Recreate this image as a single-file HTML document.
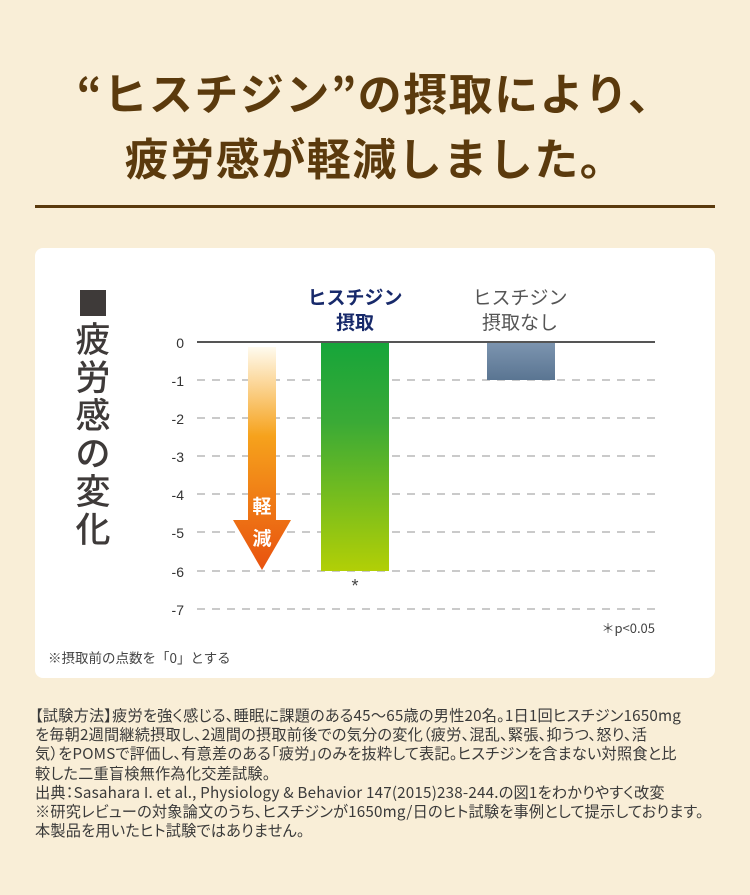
<!DOCTYPE html>
<html><head><meta charset="utf-8"><style>
*{margin:0;padding:0;box-sizing:border-box}
body{width:750px;height:895px;background:#f9eed7;position:relative;font-family:"Liberation Sans","Noto Sans CJK JP",sans-serif;overflow:hidden}
.t{position:absolute;left:0;width:750px;text-align:center;color:#5b3a0d;font-weight:bold;font-size:44px;font-family:"Noto Sans CJK JP",sans-serif;letter-spacing:1.5px}
.rule{position:absolute;left:35px;top:205px;width:680px;height:3px;background:#5b3a0d}
.panel{position:absolute;left:35px;top:248px;width:680px;height:430px;background:#fff;border-radius:8px}
.a{position:absolute}
.notes{position:absolute;left:35px;top:706px;width:710px;font-size:15.2px;line-height:19.2px;color:#3a3a3a;font-family:"Noto Sans CJK JP",sans-serif;letter-spacing:0.2px;white-space:nowrap;font-feature-settings:"palt"}
</style></head><body>
<div class="t" style="top:59px">“ヒスチジン”の摂取により、</div>
<div class="t" style="top:124px">疲労感が軽減しました。</div>
<div class="rule"></div>
<div class="panel"></div>
<svg class="a" style="left:0;top:0" width="750" height="700">
<defs>
<linearGradient id="g" x1="0" y1="0" x2="0" y2="1"><stop offset="0" stop-color="#16a53a"/><stop offset="0.35" stop-color="#3aaa36"/><stop offset="1" stop-color="#b2cf06"/></linearGradient>
<linearGradient id="s" x1="0" y1="0" x2="0" y2="1"><stop offset="0" stop-color="#7d95b0"/><stop offset="1" stop-color="#5a7592"/></linearGradient>
<linearGradient id="o" x1="0" y1="347" x2="0" y2="570" gradientUnits="userSpaceOnUse"><stop offset="0" stop-color="#fffbee"/><stop offset="0.4" stop-color="#f6a21c"/><stop offset="1" stop-color="#e8520f"/></linearGradient>
</defs>
<g stroke="#aaa" stroke-width="1.3" stroke-dasharray="8,7">
<line x1="197" y1="380" x2="655" y2="380"/><line x1="197" y1="418" x2="655" y2="418"/>
<line x1="197" y1="456" x2="655" y2="456"/><line x1="197" y1="494" x2="655" y2="494"/>
<line x1="197" y1="532" x2="655" y2="532"/><line x1="197" y1="571" x2="655" y2="571"/>
<line x1="197" y1="609" x2="655" y2="609"/>
</g>
<rect x="321" y="342" width="68" height="229" fill="url(#g)"/>
<rect x="487" y="342" width="68" height="38" fill="url(#s)"/>
<line x1="197" y1="342" x2="655" y2="342" stroke="#555" stroke-width="2"/>
<path d="M248 347H276V520H291L262 570L233 520H248Z" fill="url(#o)"/>
<g font-family="Liberation Sans,sans-serif" font-size="14" fill="#333" text-anchor="end">
<text x="184" y="348">0</text><text x="184" y="386">-1</text><text x="184" y="424">-2</text><text x="184" y="462">-3</text><text x="184" y="500">-4</text><text x="184" y="538">-5</text><text x="184" y="577">-6</text><text x="184" y="615">-7</text>
</g>
<g font-family="Noto Sans CJK JP,sans-serif" font-weight="bold" font-size="19" fill="#fff" text-anchor="middle">
<text x="262" y="513">軽</text><text x="262" y="545">減</text></g>
<g font-family="Noto Sans CJK JP,sans-serif" font-weight="bold" font-size="19" fill="#17296a" text-anchor="middle">
<text x="355" y="304">ヒスチジン</text><text x="355" y="329">摂取</text></g>
<g font-family="Noto Sans CJK JP,sans-serif" font-size="19" fill="#555" text-anchor="middle">
<text x="520" y="304">ヒスチジン</text><text x="520" y="329">摂取なし</text></g>
<text x="355" y="592" font-size="18" fill="#444" text-anchor="middle" font-family="Liberation Sans,sans-serif">*</text>
<text x="655" y="633" font-size="13" fill="#444" text-anchor="end" font-family="Noto Sans CJK JP,sans-serif">＊p&lt;0.05</text>
<text x="48" y="663" font-size="13.5" fill="#444" font-family="Noto Sans CJK JP,sans-serif">※摂取前の点数を「0」とする</text>
<rect x="80" y="290" width="26" height="26" fill="#3e3a39"/>
<g font-family="Noto Sans CJK JP,sans-serif" font-weight="500" font-size="35" fill="#3e3a39" text-anchor="middle">
<text x="93" y="352">疲</text><text x="93" y="390">労</text><text x="93" y="428">感</text><text x="93" y="466">の</text><text x="93" y="504">変</text><text x="93" y="542">化</text>
</g>
</svg>
<div class="notes">【試験方法】疲労を強く感じる、睡眠に課題のある45～65歳の男性20名。1日1回ヒスチジン1650mg<br>を毎朝2週間継続摂取し、2週間の摂取前後での気分の変化（疲労、混乱、緊張、抑うつ、怒り、活<br>気）をPOMSで評価し、有意差のある「疲労」のみを抜粋して表記。ヒスチジンを含まない対照食と比<br>較した二重盲検無作為化交差試験。<br>出典：Sasahara I. et al., Physiology &amp; Behavior 147(2015)238-244.の図1をわかりやすく改変<br>※研究レビューの対象論文のうち、ヒスチジンが1650mg/日のヒト試験を事例として提示しております。<br>本製品を用いたヒト試験ではありません。</div>
</body></html>
